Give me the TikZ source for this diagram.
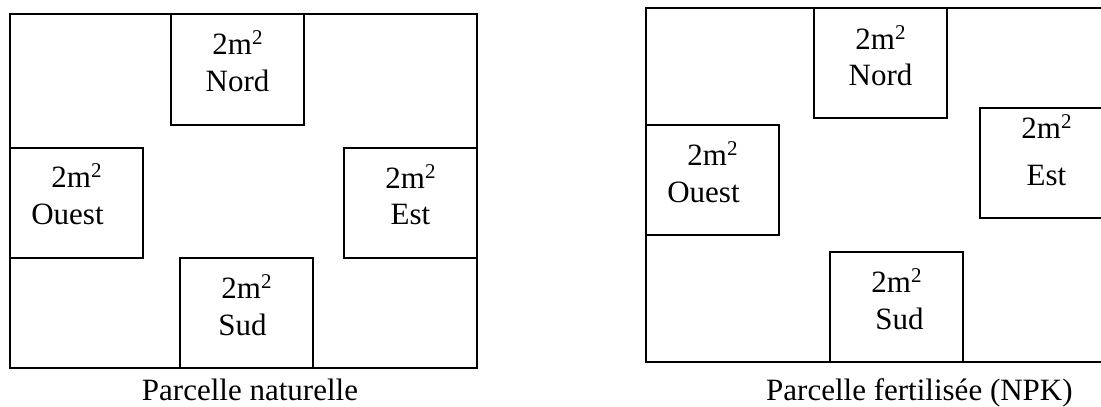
\documentclass[tikz,border=0pt]{standalone}
\usepackage{fontspec}
\setmainfont{Liberation Serif}
\newcommand{\msq}{2m\raisebox{10pt}{\fontsize{21}{21}\selectfont 2}}
\begin{document}
\begin{tikzpicture}[x=1pt,y=-1pt,
  field/.style={draw=black,line width=1.3pt},
  plot/.style={draw=black,line width=1.8pt,fill=white,anchor=north west,
    minimum width=133pt,minimum height=110pt,inner sep=0pt,outer sep=0pt},
  txt/.style={anchor=base,inner sep=0pt,font=\fontsize{31}{37}\selectfont},
]
\useasboundingbox (0,0) rectangle (1101,407);
\clip (0,0) rectangle (1101,407);

% natural plot
\draw[field] (10,14) rectangle (477,368);
\node[plot,minimum height=111pt] (lN) at (171,14) {};
\node[plot] (lO) at (10,148) {};
\node[plot] (lE) at (344,148) {};
\node[plot] (lS) at (180,258) {};
\node[txt] (lNa) at ([yshift=-40pt]lN.north) {\msq};
\node[txt] (lNb) at ([yshift=-77pt]lN.north) {Nord};
\node[txt] (lOa) at ([yshift=-39pt]lO.north) {\msq};
\node[txt] (lOb) at ([xshift=-9pt,yshift=-76pt]lO.north) {Ouest};
\node[txt] (lEa) at ([yshift=-40pt]lE.north) {\msq};
\node[txt] (lEb) at ([yshift=-76pt]lE.north) {Est};
\node[txt] (lSa) at ([yshift=-40pt]lS.north) {\msq};
\node[txt] (lSb) at ([xshift=-4pt,yshift=-77pt]lS.north) {Sud};
\node[txt] (lcap) at (250,400) {Parcelle naturelle};

% fertilised plot
\draw[field] (646,8) rectangle (1115,362);
\node[plot] (rN) at (814,8) {};
\node[plot] (rO) at (646,125) {};
\node[plot] (rE) at (980,108) {};
\node[plot] (rS) at (830,252) {};
\node[txt] (rNa) at ([yshift=-41pt]rN.north) {\msq};
\node[txt] (rNb) at ([yshift=-77pt]rN.north) {Nord};
\node[txt] (rOa) at ([yshift=-40pt]rO.north) {\msq};
\node[txt] (rOb) at ([xshift=-9pt,yshift=-77pt]rO.north) {Ouest};
\node[txt] (rEa) at ([yshift=-30pt]rE.north) {\msq};
\node[txt] (rEb) at ([yshift=-77pt]rE.north) {Est};
\node[txt] (rSa) at ([yshift=-40pt]rS.north) {\msq};
\node[txt] (rSb) at ([xshift=3pt,yshift=-77pt]rS.north) {Sud};
\node[txt,anchor=base west] (rcap) at (766,400) {Parcelle fertilisée (NPK)};
\end{tikzpicture}
\end{document}
